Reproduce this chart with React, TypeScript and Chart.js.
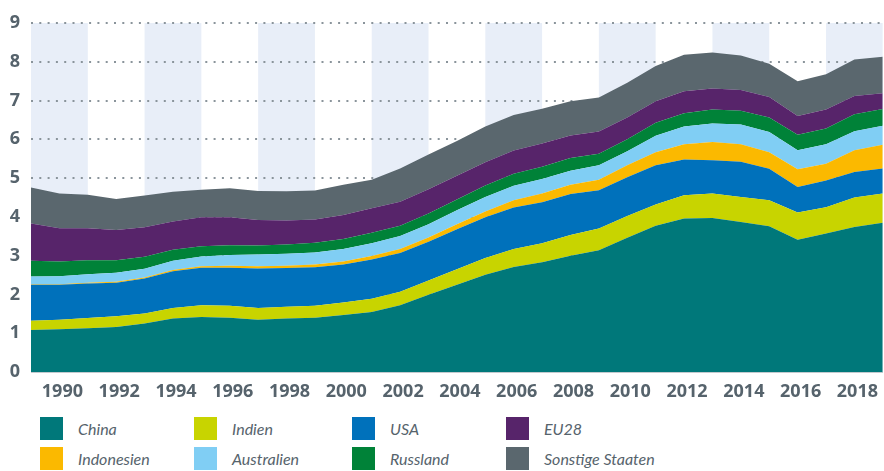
import React, { useEffect, useRef } from "react";
import { Chart, registerables } from "chart.js";

Chart.register(...registerables);

const years = [1989, 1990, 1991, 1992, 1993, 1994, 1995, 1996, 1997, 1998, 1999, 2000, 2001, 2002, 2003, 2004, 2005, 2006, 2007, 2008, 2009, 2010, 2011, 2012, 2013, 2014, 2015, 2016, 2017, 2018, 2019];
const tickYears = [1990, 1992, 1994, 1996, 1998, 2000, 2002, 2004, 2006, 2008, 2010, 2012, 2014, 2016, 2018];
const bandCenters = [1990, 1994, 1998, 2002, 2006, 2010, 2014, 2018];
const yTicks = [0, 1, 2, 3, 4, 5, 6, 7, 8, 9];

const china = [1.08, 1.10, 1.13, 1.16, 1.25, 1.38, 1.42, 1.40, 1.35, 1.38, 1.40, 1.47, 1.55, 1.72, 1.99, 2.25, 2.51, 2.71, 2.83, 3.00, 3.14, 3.46, 3.77, 3.96, 3.97, 3.87, 3.76, 3.41, 3.57, 3.74, 3.85];
const indien = [0.24, 0.25, 0.26, 0.28, 0.26, 0.27, 0.30, 0.31, 0.30, 0.30, 0.31, 0.32, 0.34, 0.35, 0.37, 0.40, 0.43, 0.46, 0.49, 0.53, 0.56, 0.56, 0.55, 0.60, 0.63, 0.64, 0.67, 0.70, 0.68, 0.76, 0.75];
const usa = [0.93, 0.90, 0.89, 0.86, 0.90, 0.95, 0.97, 0.98, 1.02, 1.00, 0.99, 0.98, 1.01, 1.00, 1.00, 1.03, 1.05, 1.07, 1.06, 1.06, 0.99, 1.00, 1.01, 0.92, 0.86, 0.91, 0.81, 0.66, 0.69, 0.66, 0.65];
const indonesien = [0.01, 0.01, 0.02, 0.03, 0.03, 0.03, 0.04, 0.05, 0.06, 0.06, 0.07, 0.08, 0.09, 0.10, 0.11, 0.13, 0.15, 0.19, 0.22, 0.24, 0.27, 0.31, 0.34, 0.39, 0.47, 0.45, 0.43, 0.46, 0.43, 0.56, 0.61];
const australien = [0.20, 0.21, 0.22, 0.23, 0.22, 0.24, 0.25, 0.28, 0.30, 0.31, 0.31, 0.32, 0.33, 0.34, 0.34, 0.36, 0.37, 0.37, 0.38, 0.36, 0.37, 0.36, 0.42, 0.46, 0.48, 0.51, 0.52, 0.49, 0.50, 0.49, 0.49];
const russland = [0.41, 0.38, 0.36, 0.32, 0.31, 0.28, 0.26, 0.25, 0.23, 0.24, 0.25, 0.26, 0.27, 0.26, 0.28, 0.28, 0.30, 0.31, 0.31, 0.33, 0.30, 0.31, 0.34, 0.34, 0.36, 0.36, 0.37, 0.40, 0.41, 0.44, 0.43];
const eu28 = [0.96, 0.86, 0.83, 0.78, 0.76, 0.73, 0.75, 0.72, 0.66, 0.62, 0.60, 0.62, 0.63, 0.62, 0.62, 0.61, 0.60, 0.60, 0.60, 0.58, 0.57, 0.56, 0.55, 0.57, 0.54, 0.53, 0.53, 0.48, 0.49, 0.47, 0.41];
const sonstige = [0.93, 0.89, 0.86, 0.80, 0.82, 0.77, 0.71, 0.75, 0.75, 0.75, 0.75, 0.78, 0.74, 0.86, 0.90, 0.90, 0.92, 0.92, 0.90, 0.88, 0.88, 0.90, 0.91, 0.94, 0.93, 0.89, 0.86, 0.90, 0.91, 0.94, 0.94];

const seriesNames = ["China", "Indien", "USA", "Indonesien", "Australien", "Russland", "EU28", "Sonstige Staaten"];
const seriesValues = [china, indien, usa, indonesien, australien, russland, eu28, sonstige];
const seriesColors = ["#00787A", "#C8D400", "#0071BB", "#FBB900", "#80CEF4", "#008238", "#57246A", "#5A676E"];
const legendOrder = ["China", "Indien", "USA", "EU28", "Indonesien", "Australien", "Russland", "Sonstige Staaten"];

const TEXT = "#56636C";
const BAND = "#E8EEF8";

const bandsPlugin = {
  id: "bands",
  beforeDraw(chart: any) {
    const { ctx, chartArea, scales } = chart;
    const x = scales.x;
    ctx.save();
    ctx.beginPath();
    ctx.rect(chartArea.left, chartArea.top, chartArea.right - chartArea.left, chartArea.bottom - chartArea.top);
    ctx.clip();
    ctx.fillStyle = BAND;
    bandCenters.forEach((c) => {
      const a = x.getPixelForValue(c - 1);
      const b = x.getPixelForValue(c + 1);
      ctx.fillRect(a, chartArea.top, b - a, chartArea.bottom - chartArea.top);
    });
    ctx.restore();
  },
};

export default function App() {
  const ref = useRef<HTMLCanvasElement | null>(null);

  useEffect(() => {
    if (!ref.current) return;
    const chart = new Chart(ref.current, {
      type: "line",
      data: {
        datasets: seriesNames.map((name, i) => ({
          label: name,
          data: years.map((yr, j) => ({ x: yr, y: seriesValues[i][j] })),
          backgroundColor: seriesColors[i],
          borderColor: seriesColors[i],
          borderWidth: 0,
          pointRadius: 0,
          pointHoverRadius: 0,
          tension: 0,
          fill: i === 0 ? "origin" : "-1",
        })),
      },
      options: {
        animation: false,
        responsive: false,
        events: [],
        layout: { padding: { top: 23, left: 0, right: 0, bottom: 0 } },
        plugins: { legend: { display: false }, tooltip: { enabled: false } },
        scales: {
          x: {
            type: "linear",
            min: years[0],
            max: years[years.length - 1],
            afterFit: (s: any) => {
              s.height = 33;
            },
            afterBuildTicks: (s: any) => {
              s.ticks = tickYears.map((v) => ({ value: v }));
            },
            grid: { display: true, drawOnChartArea: false, drawTicks: false },
            border: { display: true, color: "#C3C9CE", width: 1 },
            ticks: {
              autoSkip: false,
              maxRotation: 0,
              padding: 9,
              labelOffset: 3,
              color: TEXT,
              font: { family: "'Open Sans', sans-serif", size: 18, weight: "bold" },
              callback: (v: any) => String(v),
            },
          },
          y: {
            stacked: true,
            min: 0,
            max: 9,
            afterFit: (s: any) => {
              s.width = 31;
            },
            afterBuildTicks: (s: any) => {
              s.ticks = yTicks.map((v) => ({ value: v }));
            },
            grid: {
              drawTicks: false,
              lineWidth: 2,
              color: (c: any) => (c.tick && c.tick.value === 0 ? "rgba(0,0,0,0)" : "#8A949B"),
            },
            border: { display: false, dash: [2, 6.3] },
            ticks: {
              padding: 11,
              color: TEXT,
              font: { family: "'Open Sans', sans-serif", size: 18, weight: "bold" },
              callback: (v: any) => String(v),
            },
          },
        },
      },
      plugins: [bandsPlugin],
    } as any);
    return () => chart.destroy();
  }, []);

  return (
    <div style={{ position: "absolute", left: 0, top: 0, width: 884, height: 471, background: "#fff", overflow: "hidden" }}>
      <canvas ref={ref} width={884} height={405} style={{ display: "block", width: 884, height: 405 }} />
      <div
        style={{
          position: "absolute",
          left: 40,
          top: 417,
          display: "grid",
          gridTemplateColumns: "154px 158px 154px 200px",
          gridAutoRows: "30px",
        }}
      >
        {legendOrder.map((name) => {
          const i = seriesNames.indexOf(name);
          return (
            <div key={name} style={{ display: "flex", alignItems: "flex-start", height: 30 }}>
              <div style={{ width: 23, height: 23, background: seriesColors[i], flex: "none" }} />
              <span
                style={{
                  marginLeft: 15,
                  lineHeight: "23px",
                  fontFamily: "'Liberation Sans Narrow', Lato, sans-serif",
                  fontStyle: "italic",
                  fontSize: 16,
                  color: TEXT,
                  whiteSpace: "nowrap",
                }}
              >
                {name}
              </span>
            </div>
          );
        })}
      </div>
    </div>
  );
}
